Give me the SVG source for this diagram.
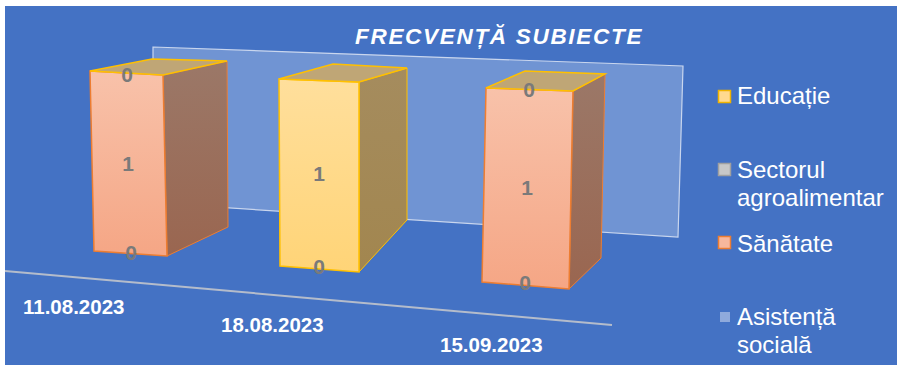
<svg xmlns="http://www.w3.org/2000/svg" width="897" height="365" viewBox="0 0 897 365">
<defs>
<linearGradient id="peachFront" x1="0" y1="0" x2="0" y2="1"><stop offset="0" stop-color="#F8C2AA"/><stop offset="1" stop-color="#F5A685"/></linearGradient>
<linearGradient id="peachSide" x1="0" y1="0" x2="0" y2="1"><stop offset="0" stop-color="#9B7868"/><stop offset="1" stop-color="#9A6650"/></linearGradient>
<linearGradient id="yelFront" x1="0" y1="0" x2="0" y2="1"><stop offset="0" stop-color="#FFDF9C"/><stop offset="1" stop-color="#FFD477"/></linearGradient>
<linearGradient id="yelSide" x1="0" y1="0" x2="0" y2="1"><stop offset="0" stop-color="#A58C5E"/><stop offset="1" stop-color="#A2864F"/></linearGradient>
<style>
.title{font-family:"Liberation Sans",Arial,sans-serif;font-weight:bold;font-style:italic;font-size:22.5px;letter-spacing:1.7px;fill:#FFFFFF}
.date{font-family:"Liberation Sans",Arial,sans-serif;font-weight:bold;font-size:20.5px;fill:#FFFFFF}
.leg{font-family:"Liberation Sans",Arial,sans-serif;font-size:24px;fill:#FFFFFF}
.val{font-family:"Liberation Sans",Arial,sans-serif;font-weight:bold;font-size:21px;fill:#7A7A7A;text-anchor:middle}
.pf{fill:url(#peachFront);stroke:#ED7D31;stroke-width:1.5}
.ps{fill:url(#peachSide);stroke:#ED7D31;stroke-width:1}
.yf{fill:url(#yelFront);stroke:#FFC000;stroke-width:1.5}
.ys{fill:url(#yelSide);stroke:#FFC000;stroke-width:1}
.top{fill:#BFA676;stroke:#FFC000;stroke-width:1.5}
</style>
</defs>
<rect x="0" y="0" width="897" height="365" fill="#FFFFFF"/>
<rect x="5" y="6" width="892" height="359" fill="#4472C4"/>
<g id="backwall"><polygon points="153,47 683,66 678,237 153,203" fill="#7094D3" stroke="#C9D6EE" stroke-width="1.2"/></g>
<g id="floor"><line x1="5" y1="271" x2="612" y2="325" stroke="#B4BCCB" stroke-width="2"/></g>
<text class="title" x="355" y="44">FRECVENȚĂ SUBIECTE</text>
<g id="bar1">
<polygon class="ps" points="163,75 227,61 228,227 167,256"/>
<polygon class="pf" points="90,71 163,75 167,256 94,251"/>
<polygon class="top" points="90,71 152,59 227,61 163,75"/>
<text class="val" x="127" y="82">0</text>
<text class="val" x="128" y="171">1</text>
<text class="val" x="131" y="260">0</text>
</g>
<g id="bar2">
<polygon class="ys" points="359,82 407,68 407,220 359,272"/>
<polygon class="yf" points="279,79 359,82 359,272 280,266"/>
<polygon class="top" points="279,79 333,64 407,68 359,82"/>
<text class="val" x="319" y="181">1</text>
<text class="val" x="319" y="274">0</text>
</g>
<g id="bar3">
<polygon class="ps" points="573,91 605,74 601,258 569,289"/>
<polygon class="pf" points="486,88 573,91 569,289 482,282"/>
<polygon class="top" points="486,88 525,71 605,74 573,91"/>
<text class="val" x="529" y="97">0</text>
<text class="val" x="527" y="195">1</text>
<text class="val" x="525" y="290">0</text>
</g>
<g id="dates">
<text class="date" x="23" y="314">11.08.2023</text>
<text class="date" x="221" y="332">18.08.2023</text>
<text class="date" x="440" y="352">15.09.2023</text>
</g>
<g id="legend">
<rect x="718.5" y="90.5" width="12" height="12" fill="#FFD98F" stroke="#F0B400" stroke-width="1.5"/>
<text class="leg" x="737" y="104">Educație</text>
<rect x="718.5" y="163.5" width="12" height="12" fill="#C8C8C8" stroke="#A0A0A0" stroke-width="1.5"/>
<text class="leg" x="737" y="178">Sectorul</text>
<text class="leg" x="737" y="206">agroalimentar</text>
<rect x="718.5" y="236.5" width="12" height="12" fill="#F7B79C" stroke="#ED7D31" stroke-width="1.5"/>
<text class="leg" x="737" y="252">Sănătate</text>
<rect x="720" y="312" width="10" height="10" fill="#8FAADC"/>
<text class="leg" x="737" y="325">Asistență</text>
<text class="leg" x="737" y="353">socială</text>
</g>
</svg>
